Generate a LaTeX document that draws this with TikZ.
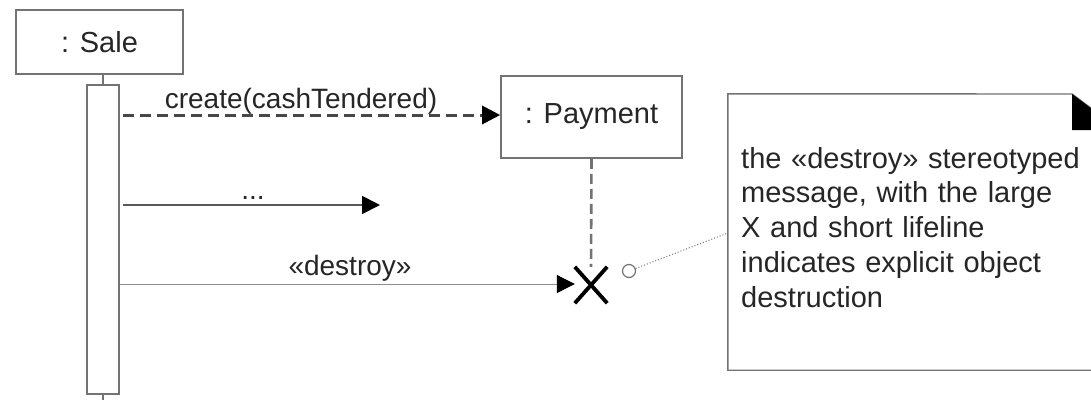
\documentclass[tikz,border=0pt]{standalone}
\usepackage{fontspec}
\setmainfont{Liberation Sans}
\usetikzlibrary{arrows.meta}
\tikzset{
  objbox/.style={draw=black!55, line width=1.6pt, fill=white, inner sep=0pt, font=\fontsize{29}{34}\selectfont, text=black!85},
  actbox/.style={draw=black!55, line width=1.4pt, fill=white, inner sep=0pt},
  lbl/.style={inner sep=0pt, font=\fontsize{28}{34}\selectfont, text=black!85},
  msgtip/.style={-{Triangle[length=18pt,width=18pt,color=black]}},
  lifeln/.style={draw=black!55, line width=1.4pt},
}
\begin{document}
\begin{tikzpicture}[x=1pt,y=-1pt]
\clip (0,0) rectangle (1091,400);
\fill[white] (0,0) rectangle (1091,400);
% Sale object
\node[objbox, minimum width=167pt, minimum height=64pt] (sale) at (99.5,42) {: Sale};
\node[actbox, minimum width=32pt, minimum height=309pt] (act) at (103,239.5) {};
\coordinate (bottom) at (103,400);
\draw[lifeln] (act.north |- sale.south) -- (act.north);
\draw[lifeln] (act.south) -- (bottom);
% Payment object
\node[objbox, minimum width=181pt, minimum height=82pt] (pay) at (591.5,117) {: Payment};
% destruction X
\node[minimum width=32pt, minimum height=36pt, inner sep=0pt] (x) at (591,285) {};
\draw[black, line width=3.8pt] (x.north west) -- (x.south east);
\draw[black, line width=3.8pt] (x.north east) -- (x.south west);
\draw[draw=black!55, line width=2.6pt, dash pattern=on 10pt off 5pt] (pay.south) -- (x.north);
% messages
\coordinate (c1) at (123,115);
\draw[msgtip, draw=black!72, line width=3pt, dash pattern=on 11pt off 6pt] (c1) -- (pay.west |- c1);
\node[lbl, anchor=base] (l1) at (301,108) {create(cashTendered)};
\coordinate (c2s) at (123,205);
\coordinate (c2e) at (380,205);
\draw[msgtip, draw=black!65, line width=1.8pt] (c2s) -- (c2e);
\node[lbl, anchor=base] (l2) at (253,199) {...};
\coordinate (c3) at (119.5,284);
\draw[msgtip, draw=black!45, line width=1pt] (c3) -- (x.west |- c3);
\node[lbl, anchor=base] (l3) at (350,275) {«destroy»};
% note
\node[minimum width=392pt, minimum height=276pt, inner sep=0pt] (note) at (924,232) {};
\draw[draw=black!55, line width=1.4pt] (note.north west) -- (1072,94) -- (1120,130) -- (note.south east) -- (note.south west) -- cycle;
\fill[black] (1072,94) -- (1072,130) -- (1120,130) -- cycle;
\node[inner sep=0pt, anchor=north west, text width=350pt, align=left, font=\fontsize{29}{34.7}\selectfont, text=black!85] (ntext) at (741,147)
  {the «destroy» stereotyped\\message, with the large\\X and short lifeline\\indicates explicit object\\destruction};
\node[circle, draw=black!55, line width=1.2pt, minimum size=13pt, inner sep=0pt, fill=white] (circ) at (629,271) {};
\draw[draw=black!55, line width=1pt, dotted] (circ) -- (note.west |- 0,233);
\end{tikzpicture}
\end{document}
